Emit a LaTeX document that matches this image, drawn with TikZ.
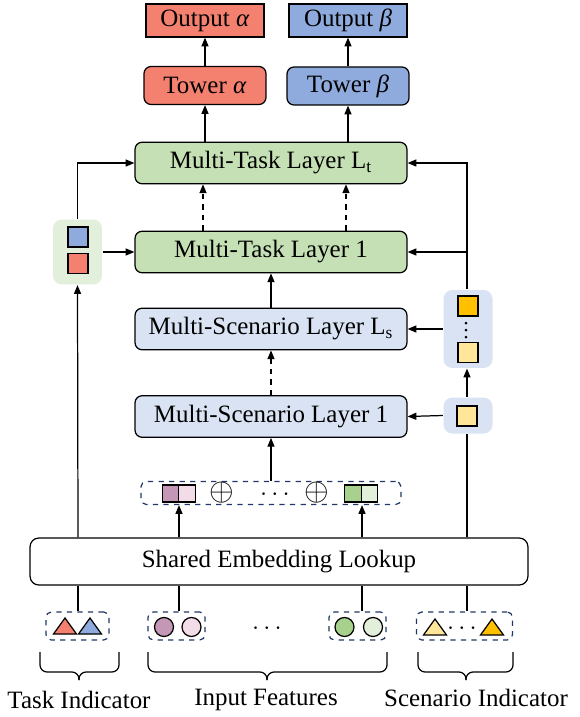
\documentclass[tikz,border=0pt]{standalone}
\usepackage{fontspec}
\setmainfont{Liberation Serif}
\usepackage{tikz}
\usetikzlibrary{arrows.meta}

\definecolor{alphared}{HTML}{F4806F}
\definecolor{betablue}{HTML}{8FAADC}
\definecolor{taskgreen}{HTML}{C5E0B4}
\definecolor{scenblue}{HTML}{DAE3F3}
\definecolor{palegreen}{HTML}{E2EFDA}
\definecolor{paleyellow}{HTML}{FFE699}
\definecolor{darkyellow}{HTML}{FFC000}
\definecolor{mauve}{HTML}{C497B6}
\definecolor{palepink}{HTML}{F2DCE8}
\definecolor{midgreen}{HTML}{A9D18E}
\definecolor{navy}{HTML}{203864}

\tikzset{
  arr/.style={-{Triangle[length=5pt,width=4pt]}},
  layer/.style={draw, rounded corners=4pt, minimum width=5.44cm, minimum height=0.83cm, inner sep=0pt},
  headbox/.style={draw, minimum width=2.36cm, minimum height=0.66cm, inner sep=0pt},
  towerbox/.style={draw, rounded corners=4pt, minimum width=2.44cm, minimum height=0.76cm, inner sep=0pt},
  groupbox/.style={draw=navy, dashed, rounded corners=3pt, minimum height=0.56cm, inner sep=0pt},
  tint/.style={rounded corners=5pt, minimum width=0.98cm, inner sep=0pt},
  sqr/.style={draw, minimum size=0.4cm, inner sep=0pt},
  half/.style={draw, minimum width=0.33cm, minimum height=0.34cm, inner sep=0pt},
  dot/.style={draw, circle, minimum size=0.38cm, inner sep=0pt}
}

% triangle: x, y, colour
\newcommand{\tri}[3]{\filldraw[fill=#3] (#1-11.5,#2+8) -- (#1+11.5,#2+8) -- (#1,#2-8) -- cycle;}
% under-brace: left x, right x, tip x
\newcommand{\ubrace}[3]{%
  \draw[rounded corners=4pt] (#1,652) -- (#1,672) -- (#3,672) -- (#3,680);
  \draw[rounded corners=4pt] (#2,652) -- (#2,672) -- (#3,672) -- (#3,680);}
\newcommand{\bigplus}{\scalebox{1.25}{$\oplus$}}
\newcommand{\tightdots}{$\cdot\mkern-1mu\cdot\mkern-1mu\cdot$}

\begin{document}
\begin{tikzpicture}[x=0.02cm, y=-0.02cm, line width=0.7pt, every node/.style={font=\fontsize{14.2}{16}\selectfont}]
  \useasboundingbox (0,0) rectangle (579,717);

  % heads
  \node[headbox, fill=alphared] (outa) at (205,20.5) {Output \textit{α}};
  \node[headbox, fill=betablue] (outb) at (348,20.5) {Output \textit{β}};
  \node[towerbox, fill=alphared] (towa) at (205,85.5) {Tower \textit{α}};
  \node[towerbox, fill=betablue] (towb) at (348,86) {Tower \textit{β}};

  % layers
  \node[layer, fill=taskgreen] (mtlt) at (271,163) {Multi-Task Layer L\textsubscript{t}};
  \node[layer, fill=taskgreen] (mtlone) at (271,252) {Multi-Task Layer 1};
  \node[layer, fill=scenblue] (msls) at (271,329) {Multi-Scenario Layer L\textsubscript{s}};
  \node[layer, fill=scenblue] (mslone) at (271,416.5) {Multi-Scenario Layer 1};

  % concatenated features
  \node[groupbox, minimum width=5.2cm, minimum height=0.46cm] (concat) at (271,493) {};
  \node[half, fill=mauve] (ca) at (170.5,493.5) {};
  \node[half, fill=palepink] (cb) at (187,493.5) {};
  \node (plusa) at (221.5,493) {\bigplus};
  \node (cdots) at (275,495) {\tightdots};
  \node (plusb) at (317,493) {\bigplus};
  \node[half, fill=midgreen] (cc) at (353,493.5) {};
  \node[half, fill=palegreen] (cd) at (369.5,493.5) {};

  \node[draw, rounded corners=5pt, minimum width=9.96cm, minimum height=0.94cm, inner sep=0pt] (emb) at (279,561.5) {Shared Embedding Lookup};

  % task selector
  \node[tint, fill=palegreen, minimum height=1.3cm] (taskbox) at (77.5,252) {};
  \node[sqr, fill=betablue] (tsqb) at (78,237) {};
  \node[sqr, fill=alphared] (tsqr) at (78,263.5) {};

  % scenario selector
  \node[tint, fill=scenblue, minimum height=1.56cm] (scbig) at (468,329) {};
  \node[sqr, fill=darkyellow] (ssqa) at (468,306) {};
  \node[sqr, fill=paleyellow] (ssqb) at (468,352.5) {};
  \fill (466,323) circle (1.5) (466,330) circle (1.5) (466,337) circle (1.5);
  \node[tint, fill=scenblue, minimum height=0.72cm] (scsmall) at (468,415.5) {};
  \node[sqr, fill=paleyellow] (ssqc) at (467,416) {};

  % inputs
  \node[groupbox, minimum width=1.26cm] (tind) at (77.5,626) {};
  \tri{65}{626}{alphared}
  \tri{90}{626}{betablue}
  \node[groupbox, minimum width=1.14cm] (fina) at (176.5,626) {};
  \node[dot, fill=mauve] (fa) at (164,627) {};
  \node[dot, fill=palepink] (fb) at (191.5,627) {};
  \node (fdots) at (267,629) {\tightdots};
  \node[groupbox, minimum width=1.14cm] (finb) at (357.5,626) {};
  \node[dot, fill=midgreen] (fc) at (344.5,627) {};
  \node[dot, fill=palegreen] (fd) at (373,627) {};
  \node[groupbox, minimum width=1.92cm] (sind) at (464.5,626) {};
  \tri{435}{627}{paleyellow}
  \node (sdots) at (462,629) {\tightdots};
  \tri{492}{627}{darkyellow}

  \coordinate (tx) at (78,0);
  \coordinate (fxa) at (179,0);
  \coordinate (fxb) at (362,0);
  \coordinate (sx) at (467,0);

  % connectors
  \draw[arr] (towa) -- (outa);
  \draw[arr] (towb) -- (outb);
  \draw[arr] (towa.south |- mtlt.north) -- (towa);
  \draw[arr] (towb.south |- mtlt.north) -- (towb);
  \draw[arr, dashed] (203,0 |- mtlone.north) -- (203,0 |- mtlt.south);
  \draw[arr, dashed] (346,0 |- mtlone.north) -- (346,0 |- mtlt.south);
  \draw[arr] (msls) -- (mtlone);
  \draw[arr, dashed] (mslone) -- (msls);
  \draw[arr] (concat) -- (mslone);
  \draw[arr] (fxa |- emb.north) -- (fxa |- concat.south);
  \draw[arr] (fxb |- emb.north) -- (fxb |- concat.south);

  \draw[arr] (tx |- emb.north) -- (taskbox.south);
  \draw[arr] (taskbox.north) |- (mtlt.west);
  \draw[arr] (taskbox.east) -- (mtlone.west);

  \draw (sx |- emb.north) -- (sx |- scsmall.south);
  \draw[arr] (scsmall.west) -- (mslone.east);
  \draw[arr] (sx |- scsmall.north) -- (sx |- scbig.south);
  \draw[arr] (scbig.west) -- (msls.east);
  \draw[arr] (sx |- scbig.north) |- (mtlt.east);
  \draw[arr] (sx |- mtlone.east) -- (mtlone.east);

  \draw (tind.north -| tx) -- (tx |- emb.south);
  \draw (fina.north -| fxa) -- (fxa |- emb.south);
  \draw (finb.north -| fxb) -- (fxb |- emb.south);
  \draw (sind.north -| sx) -- (sx |- emb.south);

  % braces and labels
  \ubrace{40}{119}{79}
  \ubrace{148}{387}{267}
  \ubrace{418}{513}{466}
  \node (ltask) at (79,700) {Task Indicator};
  \node (lfeat) at (266,700) {Input Features};
  \node (lscen) at (476,698) {Scenario Indicator};
\end{tikzpicture}
\end{document}
